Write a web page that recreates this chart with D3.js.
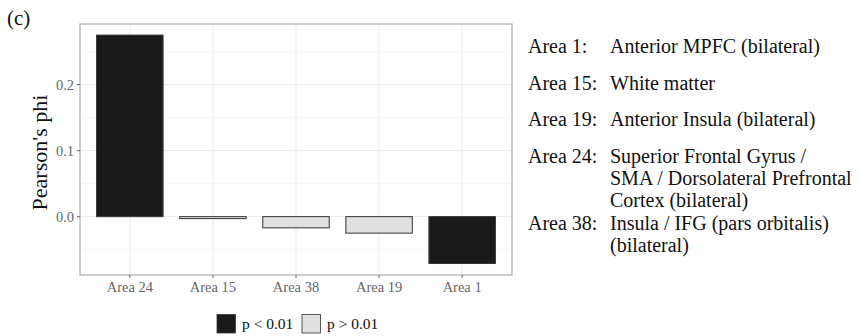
<!DOCTYPE html>
<html><head><meta charset="utf-8">
<script src="https://cdn.jsdelivr.net/npm/d3@7"></script>
<style>body{margin:0;background:#fff}svg{display:block}</style>
</head><body><svg id="c" width="860" height="336" font-family="'Liberation Serif','Times New Roman',Times,serif"></svg>
<script>
const categories = ["Area 24","Area 15","Area 38","Area 19","Area 1"];
const values = [0.275, -0.003, -0.017, -0.025, -0.071];
const significant = [true, false, false, false, true];
const yTicks = [0.0, 0.1, 0.2];
const yMinor = [-0.05, 0.05, 0.15, 0.25];
const legendLabels = ["p < 0.01", "p > 0.01"];
const areaKeys = ["Area 1:", "Area 15:", "Area 19:", "Area 24:", "Area 38:"];
const areaDescs = [["Anterior MPFC (bilateral)"],["White matter"],["Anterior Insula (bilateral)"],["Superior Frontal Gyrus /","SMA / Dorsolateral Prefrontal","Cortex (bilateral)"],["Insula / IFG (pars orbitalis)","(bilateral)"]];

const svg = d3.select("#c");
const P = {l:80, r:512, t:24, b:275};
const y = d3.scaleLinear().domain([-0.0884, 0.2918]).range([P.b, P.t]);
// discrete x with ggplot-like expansion of 0.6 units each side
const x = d3.scalePoint().domain(categories).range([P.l, P.r]).padding(0.6);
const step = x.step();
const bw = step * 0.8;

// grid
const g = svg.append("g");
yMinor.forEach(v => g.append("line").attr("x1",P.l).attr("x2",P.r).attr("y1",y(v)).attr("y2",y(v)).attr("stroke","#f3f3f3").attr("stroke-width",0.7));
yTicks.forEach(v => g.append("line").attr("x1",P.l).attr("x2",P.r).attr("y1",y(v)).attr("y2",y(v)).attr("stroke","#ebebeb").attr("stroke-width",1));
categories.forEach(c => g.append("line").attr("x1",x(c)).attr("x2",x(c)).attr("y1",P.t).attr("y2",P.b).attr("stroke","#ebebeb").attr("stroke-width",1));

// bars
categories.forEach((c,i) => {
  const v = values[i];
  svg.append("rect").attr("x", x(c)-bw/2).attr("width", bw)
    .attr("y", y(Math.max(0,v))).attr("height", Math.max(1, Math.abs(y(v)-y(0))))
    .attr("fill", significant[i] ? "#1a1a1a" : "#e0e0e0")
    .attr("stroke", "#333").attr("stroke-width", 1);
});

// panel border
svg.append("rect").attr("x",P.l).attr("y",P.t).attr("width",P.r-P.l).attr("height",P.b-P.t).attr("fill","none").attr("stroke","#b3b3b3").attr("stroke-width",1.3);

// y axis
yTicks.forEach(v => {
  svg.append("line").attr("x1",P.l-3).attr("x2",P.l).attr("y1",y(v)).attr("y2",y(v)).attr("stroke","#666");
  svg.append("text").attr("x",P.l-6).attr("y",y(v)).attr("dy","0.35em").attr("text-anchor","end").attr("font-size",14.5).attr("fill","#666").text(d3.format(".1f")(v));
});
// x axis
categories.forEach(c => {
  svg.append("line").attr("x1",x(c)).attr("x2",x(c)).attr("y1",P.b).attr("y2",P.b+3).attr("stroke","#666");
  svg.append("text").attr("x",x(c)).attr("y",P.b+17).attr("text-anchor","middle").attr("font-size",14.5).attr("fill","#666").text(c);
});
// y title
svg.append("text").attr("transform",`translate(47,${(P.t+P.b)/2+3}) rotate(-90)`).attr("text-anchor","middle").attr("font-size",22).attr("fill","#111").text("Pearson's phi");
// panel label
svg.append("text").attr("x",7).attr("y",25).attr("font-size",21).attr("fill","#111").text("(c)");

// legend
const lg = [{x:217, fill:"#1a1a1a"},{x:302, fill:"#e0e0e0"}];
lg.forEach((d,i) => {
  svg.append("rect").attr("x",d.x).attr("y",314.5).attr("width",18.5).attr("height",18.5).attr("fill",d.fill).attr("stroke","#333").attr("stroke-width",0.8);
  svg.append("text").attr("x",d.x+25).attr("y",328.5).attr("font-size",15.5).attr("fill","#111").text(legendLabels[i]);
});

// area descriptions
const baselines = [53, 89.5, 126, 162.5, 229.5];
areaKeys.forEach((k,i) => {
  svg.append("text").attr("x",528).attr("y",baselines[i]).attr("font-size",20).attr("fill","#111").text(k);
  areaDescs[i].forEach((line,j) => {
    svg.append("text").attr("x",610).attr("y",baselines[i]+j*22.2).attr("font-size",20).attr("fill","#111").text(line);
  });
});
</script></body></html>
